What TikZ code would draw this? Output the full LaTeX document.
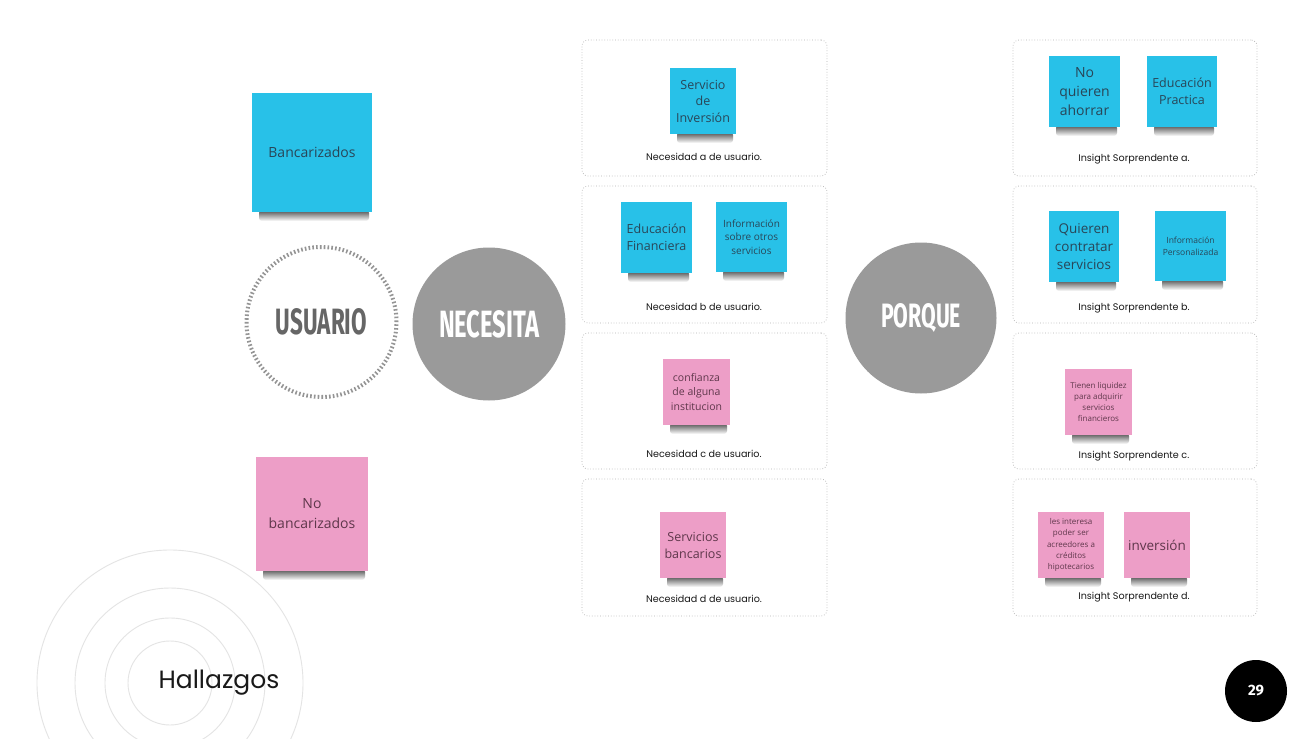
\documentclass[tikz,border=0pt]{standalone}
\usepackage{fontspec}
\setmainfont{Open Sans}
\newfontfamily\capfont{Poppins}
\newfontfamily\titfont{Fira Sans}
\newfontfamily\hallfont{Poppins}
\usetikzlibrary{calc}
\definecolor{stblue}{RGB}{40,193,232}
\definecolor{stpink}{RGB}{237,158,199}
\definecolor{bluetxt}{RGB}{40,70,88}
\definecolor{pinktxt}{RGB}{95,55,75}
\definecolor{circgray}{RGB}{154,154,154}
\definecolor{ringgray}{RGB}{228,228,228}
\newcommand{\stk}[6]{%
  \path (#3) coordinate (#1c);
  \shade[top color=black!70, bottom color=white, rounded corners=3] ($(#1c)+(-#4/2+7,#5/2-2)$) rectangle ($(#1c)+(#4/2-3,#5/2+9)$);
  \node[#2, minimum width=#4, minimum height=#5] (#1) at (#1c) {#6};
}
\tikzset{
  bluest/.style={rectangle, fill=stblue, inner sep=1, align=center, text=bluetxt},
  pinkst/.style={rectangle, fill=stpink, inner sep=1, align=center, text=pinktxt},
  boxst/.style={rectangle, draw=black!30, dotted, line width=0.7, rounded corners=6},
  capst/.style={font=\capfont\fontsize{9.6}{12}\selectfont, text=black!90},
  ringst/.style={draw=ringgray, line width=0.9},
  bigcirc/.style={circle, fill=circgray, minimum size=153, text=white, inner sep=0},
}
\begin{document}
\begin{tikzpicture}[x=1pt,y=-1pt]
\useasboundingbox (0,0) rectangle (1299,739);
\fill[white] (0,0) rectangle (1299,739);
% decorative rings
\begin{scope}
\clip (0,0) rectangle (1299,739);
\draw[ringst] (170,683) circle[radius=42];
\draw[ringst] (170,683) circle[radius=65];
\draw[ringst] (170,683) circle[radius=95];
\draw[ringst] (170,683) circle[radius=133];
\end{scope}
\node[font=\hallfont\fontsize{25}{28}\selectfont, text=black!90] (hall) at (219,683) {Hallazgos};
\node[circle, fill=black, minimum size=62, inner sep=0, text=white, font=\titfont\bfseries\fontsize{15}{15}\selectfont] (pg) at (1256,691) {29};

% left stickies
\stk{banc}{bluest, font=\fontsize{14}{18}\selectfont}{312,152.5}{120}{119}{Bancarizados}
\stk{nobanc}{pinkst, font=\fontsize{14}{20}\selectfont}{312,514}{112}{114}{No\\bancarizados}

% usuario / necesita / porque
\node[circle, draw=black!42, line width=4, dash pattern=on 1.6 off 2.2, minimum size=150, inner sep=0, text=black!60] (usr) at (321.5,322) {\resizebox{91pt}{26pt}{\titfont\bfseries USUARIO}};
\node[bigcirc] (nec) at (489,324) {\resizebox{100pt}{27pt}{\titfont\bfseries NECESITA}};
\node[bigcirc, minimum size=151] (por) at (921,318) {\resizebox{80pt}{24pt}{\titfont\bfseries PORQUE}};

% left column boxes
\node[boxst, minimum width=245, minimum height=136] (na) at (704.5,108) {};
\node[boxst, minimum width=245, minimum height=137] (nb) at (704.5,254.5) {};
\node[boxst, minimum width=245, minimum height=136] (nc) at (704.5,401) {};
\node[boxst, minimum width=245, minimum height=137] (nd) at (704.5,547.5) {};
\node[capst] (cna) at (704,157) {Necesidad a de usuario.};
\node[capst] (cnb) at (704,307) {Necesidad b de usuario.};
\node[capst] (cnc) at (704,454) {Necesidad c de usuario.};
\node[capst] (cnd) at (704,599) {Necesidad d de usuario.};

\stk{s1}{bluest, font=\fontsize{12.5}{16.5}\selectfont}{703,101}{66}{66}{Servicio\\de\\Inversión}
\stk{s2a}{bluest, font=\fontsize{12.5}{16.5}\selectfont}{656.5,237.5}{71}{71}{Educación\\Financiera}
\stk{s2b}{bluest, font=\fontsize{10}{13.5}\selectfont}{751.5,237}{71}{70}{Información\\sobre otros\\servicios}
\stk{s3}{pinkst, font=\fontsize{10.5}{14.5}\selectfont}{696.5,392}{67}{66}{confianza\\de alguna\\institucion}
\stk{s4}{pinkst, font=\fontsize{12.5}{17}\selectfont}{693,545}{66}{66}{Servicios\\bancarios}

% right column boxes
\node[boxst, minimum width=244, minimum height=136] (ia) at (1135,108) {};
\node[boxst, minimum width=244, minimum height=137] (ib) at (1135,254.5) {};
\node[boxst, minimum width=244, minimum height=136] (ic) at (1135,401) {};
\node[boxst, minimum width=244, minimum height=137] (id) at (1135,547.5) {};
\node[capst] (cia) at (1134,159) {Insight Sorprendente a.};
\node[capst] (cib) at (1134,308) {Insight Sorprendente b.};
\node[capst] (cic) at (1134,456) {Insight Sorprendente c.};
\node[capst] (cid) at (1134,597) {Insight Sorprendente d.};

\stk{r1a}{bluest, font=\fontsize{14}{19}\selectfont}{1084.5,91.5}{71}{71}{No\\quieren\\ahorrar}
\stk{r1b}{bluest, font=\fontsize{12.5}{16.5}\selectfont}{1182,91.5}{70}{71}{Educación\\Practica}
\stk{r2a}{bluest, font=\fontsize{13.5}{18}\selectfont}{1084,246.5}{70}{71}{Quieren\\contratar\\servicios}
\stk{r2b}{bluest, font=\fontsize{8.5}{12}\selectfont}{1190.5,246}{71}{70}{Información\\Personalizada}
\stk{r3}{pinkst, font=\fontsize{8}{10.7}\selectfont}{1098.5,402}{67}{66}{Tienen liquidez\\para adquirir\\servicios\\financieros}
\stk{r4a}{pinkst, font=\fontsize{8}{11.3}\selectfont}{1071,545}{66}{66}{les interesa\\poder ser\\acreedores a\\créditos\\hipotecarios}
\stk{r4b}{pinkst, font=\fontsize{13.5}{16}\selectfont}{1157,545}{66}{66}{inversión}
\end{tikzpicture}
\end{document}
